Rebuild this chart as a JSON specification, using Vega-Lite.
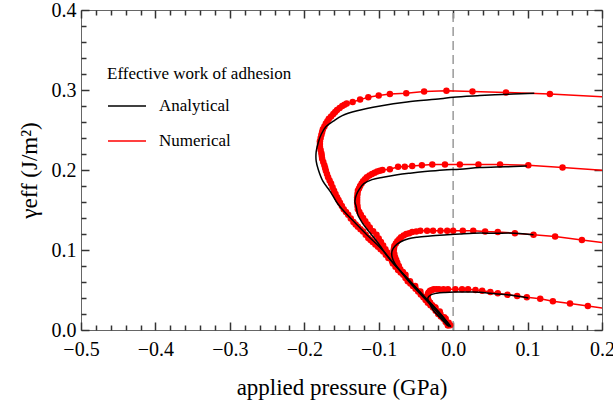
{
  "$schema": "https://vega.github.io/schema/vega-lite/v6.json",
  "width": 521,
  "height": 320,
  "autosize": {"type": "none"},
  "padding": {"left": 81, "top": 10, "right": 11, "bottom": 75},
  "background": "white",
  "config": {
    "view": {"stroke": "#666666", "strokeWidth": 1},
    "font": "Liberation Serif",
    "axis": {
      "grid": false,
      "domain": false,
      "ticks": true,
      "tickColor": "#333333",
      "tickWidth": 1.5,
      "labelFont": "Liberation Serif",
      "titleFont": "Liberation Serif",
      "labelColor": "black",
      "titleColor": "black",
      "titleFontWeight": "normal",
      "labelFlush": false,
      "labelOverlap": false,
      "labelBound": false
    }
  },
  "datasets": {
    "d": [
      {"m": "Numerical", "c": 1, "i": 0, "x": -0.007, "y": 0.006},
      {"m": "Numerical", "c": 1, "i": 1, "x": -0.013, "y": 0.014},
      {"m": "Numerical", "c": 1, "i": 2, "x": -0.020, "y": 0.020},
      {"m": "Numerical", "c": 1, "i": 3, "x": -0.027, "y": 0.028},
      {"m": "Numerical", "c": 1, "i": 4, "x": -0.034, "y": 0.034},
      {"m": "Numerical", "c": 1, "i": 5, "x": -0.040, "y": 0.041},
      {"m": "Numerical", "c": 1, "i": 6, "x": -0.047, "y": 0.048},
      {"m": "Numerical", "c": 1, "i": 7, "x": -0.054, "y": 0.055},
      {"m": "Numerical", "c": 1, "i": 8, "x": -0.061, "y": 0.061},
      {"m": "Numerical", "c": 1, "i": 9, "x": -0.067, "y": 0.069},
      {"m": "Numerical", "c": 1, "i": 10, "x": -0.074, "y": 0.075},
      {"m": "Numerical", "c": 1, "i": 11, "x": -0.081, "y": 0.083},
      {"m": "Numerical", "c": 1, "i": 12, "x": -0.087, "y": 0.090},
      {"m": "Numerical", "c": 1, "i": 12.5, "x": -0.0905, "y": 0.094},
      {"m": "Numerical", "c": 1, "i": 13, "x": -0.094, "y": 0.098},
      {"m": "Numerical", "c": 1, "i": 13.5, "x": -0.0975, "y": 0.101},
      {"m": "Numerical", "c": 1, "i": 14, "x": -0.101, "y": 0.104},
      {"m": "Numerical", "c": 1, "i": 14.5, "x": -0.1045, "y": 0.107},
      {"m": "Numerical", "c": 1, "i": 15, "x": -0.108, "y": 0.110},
      {"m": "Numerical", "c": 1, "i": 15.5, "x": -0.111, "y": 0.1125},
      {"m": "Numerical", "c": 1, "i": 16, "x": -0.114, "y": 0.115},
      {"m": "Numerical", "c": 1, "i": 16.5, "x": -0.1175, "y": 0.119},
      {"m": "Numerical", "c": 1, "i": 17, "x": -0.121, "y": 0.123},
      {"m": "Numerical", "c": 1, "i": 17.5, "x": -0.1245, "y": 0.126},
      {"m": "Numerical", "c": 1, "i": 18, "x": -0.128, "y": 0.129},
      {"m": "Numerical", "c": 1, "i": 18.5, "x": -0.131, "y": 0.132},
      {"m": "Numerical", "c": 1, "i": 19, "x": -0.134, "y": 0.135},
      {"m": "Numerical", "c": 1, "i": 19.5, "x": -0.1375, "y": 0.1395},
      {"m": "Numerical", "c": 1, "i": 20, "x": -0.141, "y": 0.144},
      {"m": "Numerical", "c": 1, "i": 20.5, "x": -0.144, "y": 0.1475},
      {"m": "Numerical", "c": 1, "i": 21, "x": -0.147, "y": 0.151},
      {"m": "Numerical", "c": 1, "i": 21.5, "x": -0.1495, "y": 0.155},
      {"m": "Numerical", "c": 1, "i": 22, "x": -0.152, "y": 0.159},
      {"m": "Numerical", "c": 1, "i": 22.5, "x": -0.154, "y": 0.1625},
      {"m": "Numerical", "c": 1, "i": 23, "x": -0.156, "y": 0.166},
      {"m": "Numerical", "c": 1, "i": 23.5, "x": -0.158, "y": 0.170},
      {"m": "Numerical", "c": 1, "i": 24, "x": -0.160, "y": 0.174},
      {"m": "Numerical", "c": 1, "i": 24.5, "x": -0.162, "y": 0.1785},
      {"m": "Numerical", "c": 1, "i": 25, "x": -0.164, "y": 0.183},
      {"m": "Numerical", "c": 1, "i": 25.5, "x": -0.166, "y": 0.187},
      {"m": "Numerical", "c": 1, "i": 26, "x": -0.168, "y": 0.191},
      {"m": "Numerical", "c": 1, "i": 26.5, "x": -0.1695, "y": 0.195},
      {"m": "Numerical", "c": 1, "i": 27, "x": -0.171, "y": 0.199},
      {"m": "Numerical", "c": 1, "i": 27.5, "x": -0.172, "y": 0.2025},
      {"m": "Numerical", "c": 1, "i": 28, "x": -0.173, "y": 0.206},
      {"m": "Numerical", "c": 1, "i": 28.5, "x": -0.1745, "y": 0.210},
      {"m": "Numerical", "c": 1, "i": 29, "x": -0.176, "y": 0.214},
      {"m": "Numerical", "c": 1, "i": 29.5, "x": -0.1765, "y": 0.2175},
      {"m": "Numerical", "c": 1, "i": 30, "x": -0.177, "y": 0.221},
      {"m": "Numerical", "c": 1, "i": 30.5, "x": -0.178, "y": 0.225},
      {"m": "Numerical", "c": 1, "i": 31, "x": -0.179, "y": 0.229},
      {"m": "Numerical", "c": 1, "i": 31.5, "x": -0.179, "y": 0.2325},
      {"m": "Numerical", "c": 1, "i": 32, "x": -0.179, "y": 0.236},
      {"m": "Numerical", "c": 1, "i": 32.5, "x": -0.178, "y": 0.240},
      {"m": "Numerical", "c": 1, "i": 33, "x": -0.177, "y": 0.244},
      {"m": "Numerical", "c": 1, "i": 33.5, "x": -0.176, "y": 0.2475},
      {"m": "Numerical", "c": 1, "i": 34, "x": -0.175, "y": 0.251},
      {"m": "Numerical", "c": 1, "i": 34.5, "x": -0.173, "y": 0.2545},
      {"m": "Numerical", "c": 1, "i": 35, "x": -0.171, "y": 0.258},
      {"m": "Numerical", "c": 1, "i": 35.5, "x": -0.169, "y": 0.261},
      {"m": "Numerical", "c": 1, "i": 36, "x": -0.167, "y": 0.264},
      {"m": "Numerical", "c": 1, "i": 36.5, "x": -0.164, "y": 0.267},
      {"m": "Numerical", "c": 1, "i": 37, "x": -0.161, "y": 0.270},
      {"m": "Numerical", "c": 1, "i": 37.5, "x": -0.1585, "y": 0.2725},
      {"m": "Numerical", "c": 1, "i": 38, "x": -0.156, "y": 0.275},
      {"m": "Numerical", "c": 1, "i": 38.5, "x": -0.1525, "y": 0.2775},
      {"m": "Numerical", "c": 1, "i": 39, "x": -0.149, "y": 0.280},
      {"m": "Numerical", "c": 1, "i": 39.5, "x": -0.146, "y": 0.2815},
      {"m": "Numerical", "c": 1, "i": 40, "x": -0.143, "y": 0.283},
      {"m": "Numerical", "c": 1, "i": 41, "x": -0.135, "y": 0.285},
      {"m": "Numerical", "c": 1, "i": 42, "x": -0.125, "y": 0.288},
      {"m": "Numerical", "c": 1, "i": 43, "x": -0.114, "y": 0.291},
      {"m": "Numerical", "c": 1, "i": 44, "x": -0.100, "y": 0.293},
      {"m": "Numerical", "c": 1, "i": 45, "x": -0.085, "y": 0.295},
      {"m": "Numerical", "c": 1, "i": 46, "x": -0.063, "y": 0.296},
      {"m": "Numerical", "c": 1, "i": 47, "x": -0.039, "y": 0.298},
      {"m": "Numerical", "c": 1, "i": 48, "x": -0.009, "y": 0.299},
      {"m": "Numerical", "c": 1, "i": 49, "x": 0.026, "y": 0.298},
      {"m": "Numerical", "c": 1, "i": 50, "x": 0.071, "y": 0.297},
      {"m": "Numerical", "c": 1, "i": 51, "x": 0.130, "y": 0.295},
      {"m": "Numerical", "c": 1, "i": 52, "x": 0.210, "y": 0.291},

      {"m": "Numerical", "c": 2, "i": 0, "x": -0.007, "y": 0.006},
      {"m": "Numerical", "c": 2, "i": 1, "x": -0.010, "y": 0.010},
      {"m": "Numerical", "c": 2, "i": 2, "x": -0.0165, "y": 0.017},
      {"m": "Numerical", "c": 2, "i": 3, "x": -0.0235, "y": 0.024},
      {"m": "Numerical", "c": 2, "i": 4, "x": -0.0305, "y": 0.031},
      {"m": "Numerical", "c": 2, "i": 5, "x": -0.037, "y": 0.0375},
      {"m": "Numerical", "c": 2, "i": 6, "x": -0.0435, "y": 0.0445},
      {"m": "Numerical", "c": 2, "i": 7, "x": -0.0505, "y": 0.0515},
      {"m": "Numerical", "c": 2, "i": 8, "x": -0.0575, "y": 0.058},
      {"m": "Numerical", "c": 2, "i": 9, "x": -0.064, "y": 0.065},
      {"m": "Numerical", "c": 2, "i": 10, "x": -0.0705, "y": 0.072},
      {"m": "Numerical", "c": 2, "i": 11, "x": -0.0775, "y": 0.079},
      {"m": "Numerical", "c": 2, "i": 11.5, "x": -0.082, "y": 0.086},
      {"m": "Numerical", "c": 2, "i": 12, "x": -0.086, "y": 0.093},
      {"m": "Numerical", "c": 2, "i": 12.5, "x": -0.0885, "y": 0.097},
      {"m": "Numerical", "c": 2, "i": 13, "x": -0.091, "y": 0.101},
      {"m": "Numerical", "c": 2, "i": 13.5, "x": -0.094, "y": 0.1055},
      {"m": "Numerical", "c": 2, "i": 14, "x": -0.097, "y": 0.110},
      {"m": "Numerical", "c": 2, "i": 14.5, "x": -0.100, "y": 0.1145},
      {"m": "Numerical", "c": 2, "i": 15, "x": -0.103, "y": 0.119},
      {"m": "Numerical", "c": 2, "i": 15.5, "x": -0.1075, "y": 0.1235},
      {"m": "Numerical", "c": 2, "i": 16, "x": -0.112, "y": 0.128},
      {"m": "Numerical", "c": 2, "i": 16.5, "x": -0.115, "y": 0.132},
      {"m": "Numerical", "c": 2, "i": 17, "x": -0.118, "y": 0.136},
      {"m": "Numerical", "c": 2, "i": 17.5, "x": -0.121, "y": 0.140},
      {"m": "Numerical", "c": 2, "i": 18, "x": -0.124, "y": 0.144},
      {"m": "Numerical", "c": 2, "i": 18.5, "x": -0.126, "y": 0.1475},
      {"m": "Numerical", "c": 2, "i": 19, "x": -0.128, "y": 0.151},
      {"m": "Numerical", "c": 2, "i": 19.5, "x": -0.1285, "y": 0.155},
      {"m": "Numerical", "c": 2, "i": 20, "x": -0.129, "y": 0.159},
      {"m": "Numerical", "c": 2, "i": 20.5, "x": -0.129, "y": 0.1625},
      {"m": "Numerical", "c": 2, "i": 21, "x": -0.129, "y": 0.166},
      {"m": "Numerical", "c": 2, "i": 21.5, "x": -0.1285, "y": 0.170},
      {"m": "Numerical", "c": 2, "i": 22, "x": -0.128, "y": 0.174},
      {"m": "Numerical", "c": 2, "i": 22.5, "x": -0.1265, "y": 0.177},
      {"m": "Numerical", "c": 2, "i": 23, "x": -0.125, "y": 0.180},
      {"m": "Numerical", "c": 2, "i": 23.5, "x": -0.123, "y": 0.183},
      {"m": "Numerical", "c": 2, "i": 24, "x": -0.121, "y": 0.186},
      {"m": "Numerical", "c": 2, "i": 24.5, "x": -0.1185, "y": 0.1885},
      {"m": "Numerical", "c": 2, "i": 25, "x": -0.116, "y": 0.191},
      {"m": "Numerical", "c": 2, "i": 25.5, "x": -0.1125, "y": 0.193},
      {"m": "Numerical", "c": 2, "i": 26, "x": -0.109, "y": 0.195},
      {"m": "Numerical", "c": 2, "i": 26.5, "x": -0.1055, "y": 0.1965},
      {"m": "Numerical", "c": 2, "i": 27, "x": -0.102, "y": 0.198},
      {"m": "Numerical", "c": 2, "i": 27.5, "x": -0.0985, "y": 0.199},
      {"m": "Numerical", "c": 2, "i": 28, "x": -0.095, "y": 0.200},
      {"m": "Numerical", "c": 2, "i": 29, "x": -0.085, "y": 0.201},
      {"m": "Numerical", "c": 2, "i": 30, "x": -0.074, "y": 0.204},
      {"m": "Numerical", "c": 2, "i": 31, "x": -0.065, "y": 0.204},
      {"m": "Numerical", "c": 2, "i": 32, "x": -0.055, "y": 0.205},
      {"m": "Numerical", "c": 2, "i": 33, "x": -0.042, "y": 0.206},
      {"m": "Numerical", "c": 2, "i": 34, "x": -0.028, "y": 0.207},
      {"m": "Numerical", "c": 2, "i": 35, "x": -0.011, "y": 0.207},
      {"m": "Numerical", "c": 2, "i": 36, "x": 0.009, "y": 0.207},
      {"m": "Numerical", "c": 2, "i": 37, "x": 0.034, "y": 0.207},
      {"m": "Numerical", "c": 2, "i": 38, "x": 0.063, "y": 0.207},
      {"m": "Numerical", "c": 2, "i": 39, "x": 0.101, "y": 0.206},
      {"m": "Numerical", "c": 2, "i": 40, "x": 0.147, "y": 0.203},
      {"m": "Numerical", "c": 2, "i": 41, "x": 0.211, "y": 0.199},

      {"m": "Numerical", "c": 3, "i": 0, "x": -0.004, "y": 0.006},
      {"m": "Numerical", "c": 3, "i": 1, "x": -0.010, "y": 0.014},
      {"m": "Numerical", "c": 3, "i": 2, "x": -0.017, "y": 0.020},
      {"m": "Numerical", "c": 3, "i": 3, "x": -0.024, "y": 0.028},
      {"m": "Numerical", "c": 3, "i": 4, "x": -0.031, "y": 0.034},
      {"m": "Numerical", "c": 3, "i": 5, "x": -0.037, "y": 0.041},
      {"m": "Numerical", "c": 3, "i": 6, "x": -0.044, "y": 0.048},
      {"m": "Numerical", "c": 3, "i": 7, "x": -0.051, "y": 0.055},
      {"m": "Numerical", "c": 3, "i": 8, "x": -0.058, "y": 0.061},
      {"m": "Numerical", "c": 3, "i": 9, "x": -0.064, "y": 0.069},
      {"m": "Numerical", "c": 3, "i": 9.5, "x": -0.0675, "y": 0.0725},
      {"m": "Numerical", "c": 3, "i": 10, "x": -0.071, "y": 0.076},
      {"m": "Numerical", "c": 3, "i": 10.5, "x": -0.073, "y": 0.080},
      {"m": "Numerical", "c": 3, "i": 11, "x": -0.075, "y": 0.084},
      {"m": "Numerical", "c": 3, "i": 11.5, "x": -0.0765, "y": 0.0875},
      {"m": "Numerical", "c": 3, "i": 12, "x": -0.078, "y": 0.091},
      {"m": "Numerical", "c": 3, "i": 12.5, "x": -0.079, "y": 0.095},
      {"m": "Numerical", "c": 3, "i": 13, "x": -0.080, "y": 0.099},
      {"m": "Numerical", "c": 3, "i": 13.5, "x": -0.0795, "y": 0.102},
      {"m": "Numerical", "c": 3, "i": 14, "x": -0.079, "y": 0.105},
      {"m": "Numerical", "c": 3, "i": 14.5, "x": -0.077, "y": 0.108},
      {"m": "Numerical", "c": 3, "i": 15, "x": -0.075, "y": 0.111},
      {"m": "Numerical", "c": 3, "i": 15.5, "x": -0.0725, "y": 0.1135},
      {"m": "Numerical", "c": 3, "i": 16, "x": -0.070, "y": 0.116},
      {"m": "Numerical", "c": 3, "i": 16.5, "x": -0.0665, "y": 0.118},
      {"m": "Numerical", "c": 3, "i": 17, "x": -0.063, "y": 0.120},
      {"m": "Numerical", "c": 3, "i": 17.5, "x": -0.059, "y": 0.121},
      {"m": "Numerical", "c": 3, "i": 18, "x": -0.055, "y": 0.1225},
      {"m": "Numerical", "c": 3, "i": 18.5, "x": -0.0495, "y": 0.123},
      {"m": "Numerical", "c": 3, "i": 19, "x": -0.044, "y": 0.124},
      {"m": "Numerical", "c": 3, "i": 20, "x": -0.035, "y": 0.124},
      {"m": "Numerical", "c": 3, "i": 21, "x": -0.027, "y": 0.124},
      {"m": "Numerical", "c": 3, "i": 22, "x": -0.017, "y": 0.124},
      {"m": "Numerical", "c": 3, "i": 23, "x": -0.008, "y": 0.124},
      {"m": "Numerical", "c": 3, "i": 24, "x": 0.000, "y": 0.124},
      {"m": "Numerical", "c": 3, "i": 25, "x": 0.013, "y": 0.124},
      {"m": "Numerical", "c": 3, "i": 26, "x": 0.027, "y": 0.124},
      {"m": "Numerical", "c": 3, "i": 27, "x": 0.043, "y": 0.123},
      {"m": "Numerical", "c": 3, "i": 28, "x": 0.060, "y": 0.1225},
      {"m": "Numerical", "c": 3, "i": 29, "x": 0.083, "y": 0.121},
      {"m": "Numerical", "c": 3, "i": 30, "x": 0.108, "y": 0.119},
      {"m": "Numerical", "c": 3, "i": 31, "x": 0.137, "y": 0.117},
      {"m": "Numerical", "c": 3, "i": 32, "x": 0.173, "y": 0.1125},
      {"m": "Numerical", "c": 3, "i": 33, "x": 0.211, "y": 0.108},

      {"m": "Numerical", "c": 4, "i": 0, "x": -0.006, "y": 0.009},
      {"m": "Numerical", "c": 4, "i": 1, "x": -0.012, "y": 0.016},
      {"m": "Numerical", "c": 4, "i": 2, "x": -0.018, "y": 0.023},
      {"m": "Numerical", "c": 4, "i": 3, "x": -0.024, "y": 0.028},
      {"m": "Numerical", "c": 4, "i": 3.5, "x": -0.028, "y": 0.031},
      {"m": "Numerical", "c": 4, "i": 4, "x": -0.031, "y": 0.034},
      {"m": "Numerical", "c": 4, "i": 4.5, "x": -0.033, "y": 0.037},
      {"m": "Numerical", "c": 4, "i": 5, "x": -0.034, "y": 0.040},
      {"m": "Numerical", "c": 4, "i": 5.5, "x": -0.0345, "y": 0.0425},
      {"m": "Numerical", "c": 4, "i": 6, "x": -0.034, "y": 0.045},
      {"m": "Numerical", "c": 4, "i": 6.5, "x": -0.033, "y": 0.047},
      {"m": "Numerical", "c": 4, "i": 7, "x": -0.031, "y": 0.049},
      {"m": "Numerical", "c": 4, "i": 7.5, "x": -0.0285, "y": 0.050},
      {"m": "Numerical", "c": 4, "i": 8, "x": -0.026, "y": 0.051},
      {"m": "Numerical", "c": 4, "i": 8.5, "x": -0.0225, "y": 0.051},
      {"m": "Numerical", "c": 4, "i": 9, "x": -0.019, "y": 0.051},
      {"m": "Numerical", "c": 4, "i": 10, "x": -0.013, "y": 0.051},
      {"m": "Numerical", "c": 4, "i": 11, "x": -0.007, "y": 0.051},
      {"m": "Numerical", "c": 4, "i": 12, "x": 0.003, "y": 0.051},
      {"m": "Numerical", "c": 4, "i": 13, "x": 0.012, "y": 0.051},
      {"m": "Numerical", "c": 4, "i": 14, "x": 0.020, "y": 0.051},
      {"m": "Numerical", "c": 4, "i": 15, "x": 0.030, "y": 0.050},
      {"m": "Numerical", "c": 4, "i": 16, "x": 0.039, "y": 0.049},
      {"m": "Numerical", "c": 4, "i": 17, "x": 0.050, "y": 0.0475},
      {"m": "Numerical", "c": 4, "i": 18, "x": 0.060, "y": 0.046},
      {"m": "Numerical", "c": 4, "i": 19, "x": 0.073, "y": 0.044},
      {"m": "Numerical", "c": 4, "i": 20, "x": 0.086, "y": 0.0425},
      {"m": "Numerical", "c": 4, "i": 21, "x": 0.099, "y": 0.041},
      {"m": "Numerical", "c": 4, "i": 22, "x": 0.117, "y": 0.039},
      {"m": "Numerical", "c": 4, "i": 23, "x": 0.134, "y": 0.036},
      {"m": "Numerical", "c": 4, "i": 24, "x": 0.157, "y": 0.033},
      {"m": "Numerical", "c": 4, "i": 25, "x": 0.181, "y": 0.030},
      {"m": "Numerical", "c": 4, "i": 26, "x": 0.211, "y": 0.026},

      {"m": "Analytical", "c": 1, "i": 0, "x": -0.003, "y": 0.004},
      {"m": "Analytical", "c": 1, "i": 1, "x": -0.017, "y": 0.020},
      {"m": "Analytical", "c": 1, "i": 2, "x": -0.038, "y": 0.041},
      {"m": "Analytical", "c": 1, "i": 3, "x": -0.058, "y": 0.061},
      {"m": "Analytical", "c": 1, "i": 4, "x": -0.078, "y": 0.081},
      {"m": "Analytical", "c": 1, "i": 5, "x": -0.094, "y": 0.099},
      {"m": "Analytical", "c": 1, "i": 6, "x": -0.116, "y": 0.119},
      {"m": "Analytical", "c": 1, "i": 7, "x": -0.136, "y": 0.138},
      {"m": "Analytical", "c": 1, "i": 8, "x": -0.149, "y": 0.151},
      {"m": "Analytical", "c": 1, "i": 9, "x": -0.156, "y": 0.159},
      {"m": "Analytical", "c": 1, "i": 10, "x": -0.165, "y": 0.173},
      {"m": "Analytical", "c": 1, "i": 11, "x": -0.175, "y": 0.186},
      {"m": "Analytical", "c": 1, "i": 12, "x": -0.181, "y": 0.200},
      {"m": "Analytical", "c": 1, "i": 13, "x": -0.184, "y": 0.211},
      {"m": "Analytical", "c": 1, "i": 14, "x": -0.184, "y": 0.223},
      {"m": "Analytical", "c": 1, "i": 15, "x": -0.181, "y": 0.235},
      {"m": "Analytical", "c": 1, "i": 16, "x": -0.177, "y": 0.245},
      {"m": "Analytical", "c": 1, "i": 17, "x": -0.171, "y": 0.254},
      {"m": "Analytical", "c": 1, "i": 18, "x": -0.161, "y": 0.261},
      {"m": "Analytical", "c": 1, "i": 19, "x": -0.149, "y": 0.268},
      {"m": "Analytical", "c": 1, "i": 20, "x": -0.129, "y": 0.274},
      {"m": "Analytical", "c": 1, "i": 21, "x": -0.098, "y": 0.280},
      {"m": "Analytical", "c": 1, "i": 22, "x": -0.062, "y": 0.285},
      {"m": "Analytical", "c": 1, "i": 23, "x": -0.017, "y": 0.289},
      {"m": "Analytical", "c": 1, "i": 24, "x": 0.000, "y": 0.291},
      {"m": "Analytical", "c": 1, "i": 25, "x": 0.036, "y": 0.293},
      {"m": "Analytical", "c": 1, "i": 26, "x": 0.081, "y": 0.295},
      {"m": "Analytical", "c": 1, "i": 27, "x": 0.109, "y": 0.296},

      {"m": "Analytical", "c": 2, "i": 0, "x": -0.004, "y": 0.005},
      {"m": "Analytical", "c": 2, "i": 1, "x": -0.017, "y": 0.020},
      {"m": "Analytical", "c": 2, "i": 2, "x": -0.038, "y": 0.041},
      {"m": "Analytical", "c": 2, "i": 3, "x": -0.058, "y": 0.061},
      {"m": "Analytical", "c": 2, "i": 4, "x": -0.078, "y": 0.081},
      {"m": "Analytical", "c": 2, "i": 5, "x": -0.089, "y": 0.093},
      {"m": "Analytical", "c": 2, "i": 6, "x": -0.098, "y": 0.105},
      {"m": "Analytical", "c": 2, "i": 7, "x": -0.106, "y": 0.115},
      {"m": "Analytical", "c": 2, "i": 8, "x": -0.114, "y": 0.124},
      {"m": "Analytical", "c": 2, "i": 9, "x": -0.122, "y": 0.134},
      {"m": "Analytical", "c": 2, "i": 10, "x": -0.128, "y": 0.144},
      {"m": "Analytical", "c": 2, "i": 11, "x": -0.130, "y": 0.153},
      {"m": "Analytical", "c": 2, "i": 12, "x": -0.132, "y": 0.161},
      {"m": "Analytical", "c": 2, "i": 13, "x": -0.130, "y": 0.169},
      {"m": "Analytical", "c": 2, "i": 14, "x": -0.126, "y": 0.176},
      {"m": "Analytical", "c": 2, "i": 15, "x": -0.120, "y": 0.183},
      {"m": "Analytical", "c": 2, "i": 16, "x": -0.109, "y": 0.188},
      {"m": "Analytical", "c": 2, "i": 17, "x": -0.094, "y": 0.191},
      {"m": "Analytical", "c": 2, "i": 18, "x": -0.075, "y": 0.194},
      {"m": "Analytical", "c": 2, "i": 19, "x": -0.058, "y": 0.196},
      {"m": "Analytical", "c": 2, "i": 20, "x": -0.038, "y": 0.198},
      {"m": "Analytical", "c": 2, "i": 21, "x": -0.013, "y": 0.200},
      {"m": "Analytical", "c": 2, "i": 22, "x": 0.009, "y": 0.201},
      {"m": "Analytical", "c": 2, "i": 23, "x": 0.036, "y": 0.203},
      {"m": "Analytical", "c": 2, "i": 24, "x": 0.070, "y": 0.204},
      {"m": "Analytical", "c": 2, "i": 25, "x": 0.099, "y": 0.205},

      {"m": "Analytical", "c": 3, "i": 0, "x": -0.005, "y": 0.004},
      {"m": "Analytical", "c": 3, "i": 1, "x": -0.017, "y": 0.0175},
      {"m": "Analytical", "c": 3, "i": 2, "x": -0.038, "y": 0.039},
      {"m": "Analytical", "c": 3, "i": 3, "x": -0.058, "y": 0.059},
      {"m": "Analytical", "c": 3, "i": 4, "x": -0.071, "y": 0.074},
      {"m": "Analytical", "c": 3, "i": 5, "x": -0.078, "y": 0.0825},
      {"m": "Analytical", "c": 3, "i": 6, "x": -0.082, "y": 0.091},
      {"m": "Analytical", "c": 3, "i": 7, "x": -0.082, "y": 0.099},
      {"m": "Analytical", "c": 3, "i": 8, "x": -0.078, "y": 0.105},
      {"m": "Analytical", "c": 3, "i": 9, "x": -0.071, "y": 0.110},
      {"m": "Analytical", "c": 3, "i": 10, "x": -0.060, "y": 0.114},
      {"m": "Analytical", "c": 3, "i": 11, "x": -0.048, "y": 0.116},
      {"m": "Analytical", "c": 3, "i": 12, "x": -0.031, "y": 0.1175},
      {"m": "Analytical", "c": 3, "i": 13, "x": -0.008, "y": 0.119},
      {"m": "Analytical", "c": 3, "i": 14, "x": 0.009, "y": 0.120},
      {"m": "Analytical", "c": 3, "i": 15, "x": 0.027, "y": 0.121},
      {"m": "Analytical", "c": 3, "i": 16, "x": 0.056, "y": 0.121},
      {"m": "Analytical", "c": 3, "i": 17, "x": 0.083, "y": 0.121},
      {"m": "Analytical", "c": 3, "i": 18, "x": 0.108, "y": 0.119},

      {"m": "Analytical", "c": 4, "i": 0, "x": -0.007, "y": 0.005},
      {"m": "Analytical", "c": 4, "i": 1, "x": -0.017, "y": 0.015},
      {"m": "Analytical", "c": 4, "i": 2, "x": -0.027, "y": 0.025},
      {"m": "Analytical", "c": 4, "i": 3, "x": -0.032, "y": 0.034},
      {"m": "Analytical", "c": 4, "i": 4, "x": -0.034, "y": 0.040},
      {"m": "Analytical", "c": 4, "i": 5, "x": -0.030, "y": 0.044},
      {"m": "Analytical", "c": 4, "i": 6, "x": -0.022, "y": 0.046},
      {"m": "Analytical", "c": 4, "i": 7, "x": -0.011, "y": 0.047},
      {"m": "Analytical", "c": 4, "i": 8, "x": 0.003, "y": 0.0475},
      {"m": "Analytical", "c": 4, "i": 9, "x": 0.027, "y": 0.0475},
      {"m": "Analytical", "c": 4, "i": 10, "x": 0.050, "y": 0.046},
      {"m": "Analytical", "c": 4, "i": 11, "x": 0.073, "y": 0.044},
      {"m": "Analytical", "c": 4, "i": 12, "x": 0.101, "y": 0.040}
    ],
    "zero": [{"p": 0, "lo": 0, "hi": 0.4}]
  },
  "resolve": {"axis": {"x": "independent", "y": "independent"}},
  "layer": [
    {
      "data": {"name": "zero"},
      "mark": {"type": "rule", "color": "#9a9a9a", "strokeDash": [9, 5], "strokeWidth": 1.5},
      "encoding": {
        "x": {"field": "p", "type": "quantitative",
              "scale": {"domain": [-0.5, 0.2], "nice": false, "zero": false},
              "axis": {"orient": "top", "values": [-0.48,-0.46,-0.44,-0.42,-0.38,-0.36,-0.34,-0.32,-0.28,-0.26,-0.24,-0.22,-0.18,-0.16,-0.14,-0.12,-0.08,-0.06,-0.04,-0.02,0.02,0.04,0.06,0.08,0.12,0.14,0.16,0.18],
                       "labels": false, "ticks": true, "tickColor": "#333333", "tickWidth": 1.5, "tickSize": 5, "offset": -5, "title": null}},
        "y": {"field": "lo", "type": "quantitative",
              "scale": {"domain": [0, 0.4], "nice": false, "zero": false},
              "axis": {"orient": "right", "values": [0.02,0.04,0.06,0.08,0.12,0.14,0.16,0.18,0.22,0.24,0.26,0.28,0.32,0.34,0.36,0.38],
                       "labels": false, "ticks": true, "tickColor": "#333333", "tickWidth": 1.5, "tickSize": 5, "offset": -5, "title": null}},
        "y2": {"field": "hi"}
      }
    },
    {
      "data": {"name": "d"},
      "transform": [{"filter": "datum.m == 'Numerical'"}],
      "mark": {"type": "line", "strokeWidth": 1.5, "clip": true},
      "encoding": {
        "x": {"field": "x", "type": "quantitative",
              "scale": {"domain": [-0.5, 0.2], "nice": false, "zero": false},
              "axis": {"orient": "bottom", "values": [-0.48,-0.46,-0.44,-0.42,-0.38,-0.36,-0.34,-0.32,-0.28,-0.26,-0.24,-0.22,-0.18,-0.16,-0.14,-0.12,-0.08,-0.06,-0.04,-0.02,0.02,0.04,0.06,0.08,0.12,0.14,0.16,0.18],
                       "labels": false, "ticks": true, "tickColor": "#333333", "tickWidth": 1.5, "tickSize": 5, "offset": -5, "title": null}},
        "y": {"field": "y", "type": "quantitative",
              "scale": {"domain": [0, 0.4], "nice": false, "zero": false},
              "axis": {"orient": "left", "values": [0.02,0.04,0.06,0.08,0.12,0.14,0.16,0.18,0.22,0.24,0.26,0.28,0.32,0.34,0.36,0.38],
                       "labels": false, "ticks": true, "tickColor": "#333333", "tickWidth": 1.5, "tickSize": 5, "offset": -5, "title": null}},
        "detail": {"field": "c", "type": "nominal"},
        "order": {"field": "i", "type": "quantitative"},
        "color": {"field": "m", "type": "nominal",
                  "scale": {"domain": ["Analytical", "Numerical"], "range": ["black", "#ff0000"]},
                  "legend": {"orient": "none", "legendX": 26, "legendY": 56, "padding": 0,
                             "title": "Effective work of adhesion", "titleFont": "Liberation Serif", "titleFontSize": 17,
                             "titleFontWeight": "normal", "titleColor": "black", "titlePadding": 3, "titleLimit": 400,
                             "labelFont": "Liberation Serif", "labelFontSize": 17, "labelColor": "black", "labelLimit": 300,
                             "symbolType": "stroke", "symbolSize": 1444, "symbolStrokeWidth": 1.5,
                             "labelOffset": 12, "rowPadding": 7}}
      }
    },
    {
      "data": {"name": "d"},
      "transform": [{"filter": "datum.m == 'Numerical'"}],
      "mark": {"type": "point", "filled": true, "color": "#ff0000", "opacity": 1, "size": 42, "clip": true},
      "encoding": {
        "x": {"field": "x", "type": "quantitative",
              "scale": {"domain": [-0.5, 0.2], "nice": false, "zero": false},
              "axis": {"orient": "top", "values": [-0.5,-0.4,-0.3,-0.2,-0.1,0,0.1,0.2],
                       "labels": false, "ticks": true, "tickColor": "#333333", "tickWidth": 1.5, "tickSize": 8, "offset": -8, "title": null}},
        "y": {"field": "y", "type": "quantitative",
              "scale": {"domain": [0, 0.4], "nice": false, "zero": false},
              "axis": {"orient": "right", "values": [0, 0.1, 0.2, 0.3, 0.4],
                       "labels": false, "ticks": true, "tickColor": "#333333", "tickWidth": 1.5, "tickSize": 8, "offset": -8, "title": null}}
      }
    },
    {
      "data": {"name": "d"},
      "transform": [{"filter": "datum.m == 'Analytical'"}],
      "mark": {"type": "line", "strokeWidth": 1.5, "interpolate": "catmull-rom", "clip": true},
      "encoding": {
        "x": {"field": "x", "type": "quantitative",
              "scale": {"domain": [-0.5, 0.2], "nice": false, "zero": false},
              "axis": {"orient": "bottom", "values": [-0.5,-0.4,-0.3,-0.2,-0.1,0,0.1,0.2], "format": ".1f",
                       "labels": true, "ticks": true, "tickColor": "#333333", "tickWidth": 1.5, "tickSize": 8, "offset": -8, "labelPadding": 9, "labelFontSize": 20,
                       "title": "applied pressure (GPa)", "titleFontSize": 23, "titlePadding": 17}},
        "y": {"field": "y", "type": "quantitative",
              "scale": {"domain": [0, 0.4], "nice": false, "zero": false},
              "axis": {"orient": "left", "values": [0, 0.1, 0.2, 0.3, 0.4], "format": ".1f",
                       "labels": true, "ticks": true, "tickColor": "#333333", "tickWidth": 1.5, "tickSize": 8, "offset": -8, "labelPadding": 5, "labelFontSize": 20,
                       "title": "γeff (J/m²)", "titleFontSize": 23, "titlePadding": 10}},
        "detail": {"field": "c", "type": "nominal"},
        "order": {"field": "i", "type": "quantitative"},
        "color": {"field": "m", "type": "nominal",
                  "scale": {"domain": ["Analytical", "Numerical"], "range": ["black", "#ff0000"]}}
      }
    }
  ]
}
